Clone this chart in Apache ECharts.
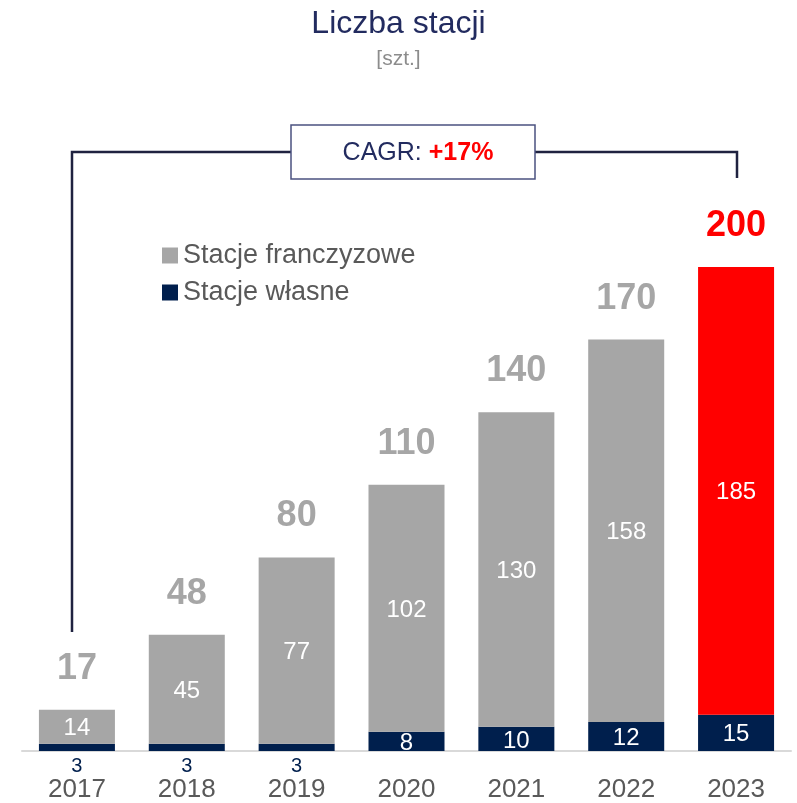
<!DOCTYPE html>
<html>
<head>
<meta charset="utf-8">
<script src="https://cdn.jsdelivr.net/npm/echarts@6/dist/echarts.min.js"></script>
<style>
  html, body { margin: 0; padding: 0; background: #fff; }
  #chart { width: 797px; height: 803px; }
</style>
</head>
<body>
<div id="chart"></div>
<script>
// dane
const years = ['2017', '2018', '2019', '2020', '2021', '2022', '2023']
const ownStations = [3, 3, 3, 8, 10, 12, 15]
const franchiseStations = [14, 45, 77, 102, 130, 158, 185]
const totals = [17, 48, 80, 110, 140, 170, 200]
const cagrText = '+17%'

const NAVY = '#001f4d'
const GREY = '#a6a6a6'
const RED = '#ff0000'
const FONT = '"Liberation Sans", Arial, sans-serif'

let myChart = echarts.init(document.getElementById('chart'))

// male wartosci (3) pokazane pod osia
let ownData = ownStations.map(v => {
    if (v < 5) {
        return { value: v, label: { position: 'bottom', distance: 3, color: NAVY, fontSize: 20 } }
    }
    return { value: v }
})
let franchiseData = franchiseStations.map((v, i) => {
    if (i == years.length - 1) {
        return { value: v, itemStyle: { color: RED } }
    }
    return { value: v }
})
let totalData = totals.map((v, i) => {
    if (i == years.length - 1) {
        return { value: v, label: { color: RED } }
    }
    return { value: v }
})

let option = {
    animation: false,
    textStyle: { fontFamily: FONT },
    title: [
        {
            text: 'Liczba stacji',
            left: 'center',
            top: 3,
            textStyle: { color: '#222b5f', fontSize: 32, fontWeight: 'normal', fontFamily: FONT }
        },
        {
            text: '[szt.]',
            left: 'center',
            top: 44,
            textStyle: { color: '#8c8c8c', fontSize: 21, fontWeight: 'normal', fontFamily: FONT }
        }
    ],
    legend: {
        orient: 'vertical',
        left: 157,
        top: 237,
        itemWidth: 16,
        itemHeight: 16,
        itemGap: 10,
        icon: 'rect',
        data: ['Stacje franczyzowe', 'Stacje własne'],
        textStyle: { color: '#595959', fontSize: 27, fontFamily: FONT }
    },
    grid: {
        left: 22,
        right: 6,
        top: 100,
        bottom: 51
    },
    xAxis: {
        type: 'category',
        data: years,
        axisLine: { lineStyle: { color: '#d9d9d9', width: 2 } },
        axisTick: { show: false },
        axisLabel: { color: '#595959', fontSize: 26, margin: 26, fontFamily: FONT }
    },
    yAxis: {
        type: 'value',
        min: 0,
        max: 269,
        show: false,
        splitLine: { show: false }
    },
    series: [
        {
            name: 'Stacje własne',
            type: 'bar',
            stack: 'all',
            barWidth: 76,
            barGap: '-100%',
            data: ownData,
            itemStyle: { color: NAVY },
            label: { show: true, position: 'inside', color: '#fff', fontSize: 24, offset: [0, 2] }
        },
        {
            name: 'Stacje franczyzowe',
            type: 'bar',
            stack: 'all',
            barWidth: 76,
            barGap: '-100%',
            data: franchiseData,
            itemStyle: { color: GREY },
            label: { show: true, position: 'inside', color: '#fff', fontSize: 24, offset: [0, 2] }
        },
        {
            name: 'Razem',
            type: 'bar',
            barWidth: 76,
            barGap: '-100%',
            data: totalData,
            silent: true,
            z: 1,
            itemStyle: { color: 'rgba(0,0,0,0)' },
            label: { show: true, position: 'top', distance: 23, color: GREY, fontSize: 36, fontWeight: 'bold', fontFamily: FONT }
        }
    ],
    graphic: [
        {
            type: 'polyline',
            shape: { points: [[72, 632], [72, 152], [291, 152]] },
            style: { stroke: '#1f2240', lineWidth: 2.5, fill: null }
        },
        {
            type: 'polyline',
            shape: { points: [[535, 152], [737, 152], [737, 178]] },
            style: { stroke: '#1f2240', lineWidth: 2.5, fill: null }
        },
        {
            type: 'rect',
            shape: { x: 291, y: 125, width: 244, height: 54 },
            style: { stroke: '#4b5280', lineWidth: 1.5, fill: '#fff' }
        },
        {
            type: 'text',
            x: 418,
            y: 153,
            style: {
                text: '{a|CAGR: }{b|' + cagrText + '}',
                align: 'center',
                verticalAlign: 'middle',
                rich: {
                    a: { fontSize: 25, fill: '#222b5f', fontFamily: FONT },
                    b: { fontSize: 25, fill: RED, fontWeight: 'bold', fontFamily: FONT }
                }
            }
        }
    ]
}
myChart.setOption(option)
</script>
</body>
</html>
